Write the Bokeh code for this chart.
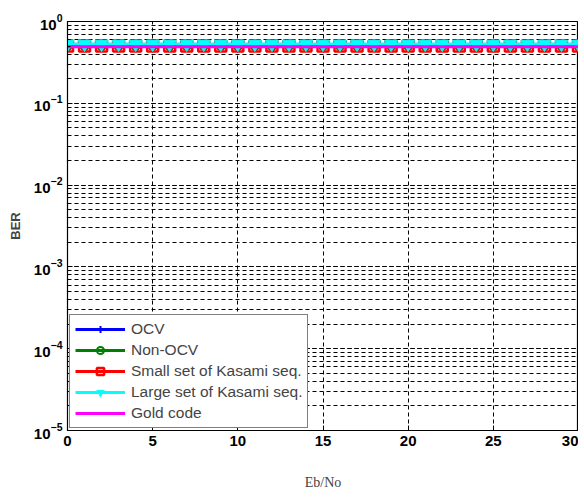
from bokeh.plotting import figure
from bokeh.models import Range1d, Legend, LegendItem, FixedTicker, LogTicker
from bokeh.embed import file_html
from bokeh.resources import INLINE

ebno = list(range(0, 31))
ber_ocv = [0.50] * 31
ber_nonocv = [0.50] * 31
ber_small_kasami = [0.50] * 31
ber_large_kasami = [0.53] * 31
ber_gold = [0.49] * 31

x_ticks = [0, 5, 10, 15, 20, 25, 30]

p = figure(width=578, height=492, y_axis_type="log", output_backend="svg",
           toolbar_location=None, x_range=Range1d(0, 30), y_range=Range1d(1e-5, 1),
           min_border_left=67, min_border_top=21, min_border_right=0, min_border_bottom=10)

p.outline_line_color = "black"
p.outline_line_width = 1.2

r1 = p.line(ebno, ber_ocv, line_color="blue", line_width=3)
m1 = p.scatter(ebno, ber_ocv, marker="cross", size=8, line_color="blue", line_width=2)
r2 = p.line(ebno, ber_nonocv, line_color="green", line_width=3)
m2 = p.scatter(ebno, ber_nonocv, marker="circle", size=8, line_color="green", fill_color=None, line_width=2)
r3 = p.line(ebno, ber_small_kasami, line_color="red", line_width=3)
m3 = p.scatter(ebno, ber_small_kasami, marker="square", size=11, line_color="red", fill_color=None, line_width=2.5)
r4 = p.line(ebno, ber_large_kasami, line_color="cyan", line_width=3)
m4 = p.scatter(ebno, ber_large_kasami, marker="inverted_triangle", size=13, line_color="cyan", fill_color="cyan")
r5 = p.line(ebno, ber_gold, line_color="magenta", line_width=3)

legend = Legend(items=[
    LegendItem(label="OCV", renderers=[r1, m1]),
    LegendItem(label="Non-OCV", renderers=[r2, m2]),
    LegendItem(label="Small set of Kasami seq.", renderers=[r3, m3]),
    LegendItem(label="Large set of Kasami seq.", renderers=[r4, m4]),
    LegendItem(label="Gold code", renderers=[r5]),
], location="bottom_left")
legend.border_line_color = "black"
legend.border_line_width = 1.2
legend.background_fill_alpha = 1
legend.label_text_font = "Liberation Sans"
legend.label_text_font_size = "15.5px"
legend.glyph_width = 50
legend.glyph_height = 18
legend.spacing = 3
legend.padding = 5
legend.margin = 2
legend.label_standoff = 6
p.add_layout(legend)

p.xaxis.ticker = FixedTicker(ticks=x_ticks)
p.yaxis.ticker = LogTicker(num_minor_ticks=10)
for ax in (p.xaxis[0], p.yaxis[0]):
    ax.major_label_text_font = "Liberation Sans"
    ax.major_label_text_font_style = "bold"
    ax.major_label_text_font_size = "15px"
    ax.major_label_text_color = "black"
    ax.axis_line_color = "black"
    ax.major_tick_in = 5
    ax.major_tick_out = 0
    ax.minor_tick_in = 3
    ax.minor_tick_out = 0
p.xaxis.minor_tick_line_color = None

p.xaxis.axis_label = "Eb/No"
p.xaxis.axis_label_text_font = "Liberation Serif"
p.xaxis.axis_label_text_font_style = "normal"
p.xaxis.axis_label_text_font_size = "14px"
p.xaxis.axis_label_standoff = 26
p.yaxis.axis_label = "BER"
p.yaxis.axis_label_text_font = "Liberation Sans"
p.yaxis.axis_label_text_font_style = "bold"
p.yaxis.axis_label_text_font_size = "13px"
p.yaxis.axis_label_standoff = 8

p.xgrid.grid_line_color = "black"
p.xgrid.grid_line_dash = "4 3"
p.ygrid.grid_line_color = "black"
p.ygrid.grid_line_dash = "4 3"
p.ygrid.minor_grid_line_color = "black"
p.ygrid.minor_grid_line_dash = "4 3"

open("out.html", "w").write(file_html(p, INLINE))
